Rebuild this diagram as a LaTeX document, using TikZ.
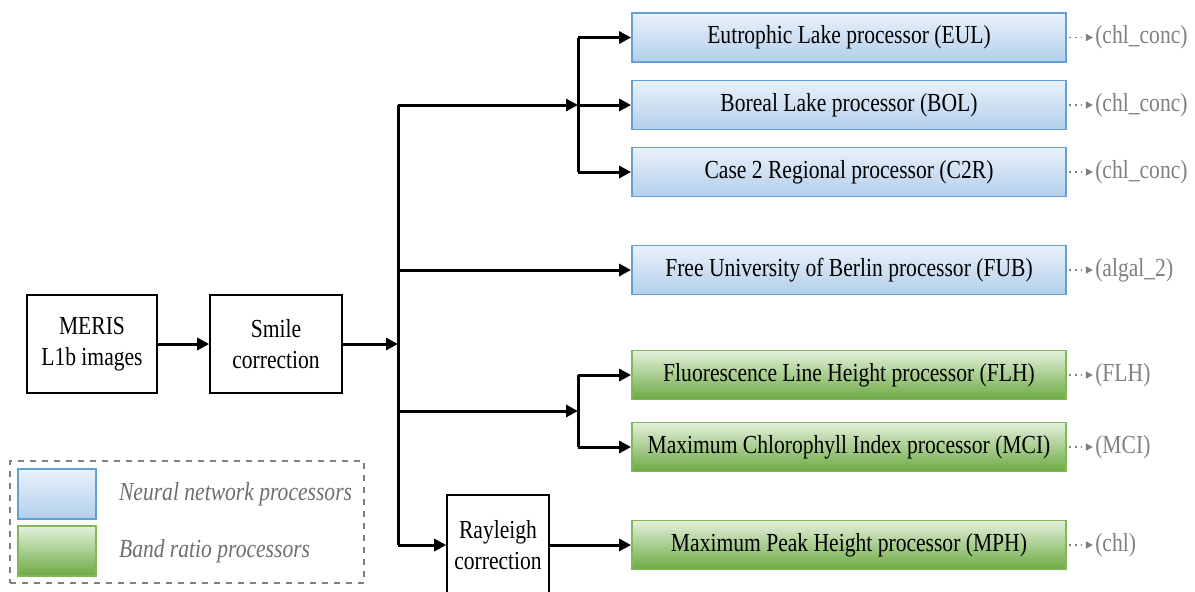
\documentclass[tikz,border=0pt]{standalone}
\usepackage{fontspec}
\setmainfont[FakeStretch=0.83]{Liberation Serif}
\usepackage{tikz}
\usetikzlibrary{arrows.meta,positioning}
\definecolor{nntop}{RGB}{234,241,250}
\definecolor{nnbot}{RGB}{178,207,235}
\definecolor{nnedge}{RGB}{98,160,216}
\definecolor{brtop}{RGB}{228,240,220}
\definecolor{brbot}{RGB}{108,170,66}
\definecolor{bredge}{RGB}{128,186,88}
\definecolor{outgrey}{RGB}{128,128,128}
\definecolor{leggrey}{RGB}{110,110,110}

\begin{document}
\begin{tikzpicture}[
    x=0.5pt, y=-0.5pt,
    plain/.style={rectangle, draw, line width=0.8pt, align=center,
                  font=\fontsize{13}{15.5}\selectfont},
    proc/.style={rectangle, draw, line width=0.9pt, minimum width=217pt,
                 minimum height=24.5pt, font=\fontsize{13}{15}\selectfont},
    nn/.style={proc, draw=nnedge, top color=nntop, bottom color=nnbot},
    br/.style={proc, draw=bredge, top color=brtop, bottom color=brbot},
    flow/.style={-{Triangle[length=6pt,width=6pt]}, line width=1.5pt},
    trunk/.style={line width=1.5pt},
    outarr/.style={-{Triangle[length=3.5pt,width=3.5pt]}, dotted,
                   line width=0.9pt, outgrey},
    outlbl/.style={font=\fontsize{13}{15}\selectfont, text=outgrey,
                   inner sep=1pt},
    legtxt/.style={font=\fontsize{13}{15}\selectfont\itshape, text=leggrey,
                   anchor=west},
  ]
  \useasboundingbox (0,0) rectangle (1195,591);

  % Input chain
  \node[plain, minimum width=65pt, minimum height=49pt] (meris) at (92,344)
    {MERIS\\L1b images};
  \node[plain, minimum width=66pt, minimum height=49pt] (smile) at (276,344)
    {Smile\\correction};
  \node[plain, minimum width=51pt, minimum height=50pt] (ray) at (498,545)
    {Rayleigh\\correction};

  % Neural network processors
  \node[nn] (eul) at (849,37.5) {Eutrophic Lake processor (EUL)};
  \node[nn] (bol) at (849,105) {Boreal Lake processor (BOL)};
  \node[nn] (c2r) at (849,172) {Case 2 Regional processor (C2R)};
  \node[nn] (fub) at (849,270) {Free University of Berlin processor (FUB)};

  % Band ratio processors
  \node[br] (flh) at (849,375) {Fluorescence Line Height processor (FLH)};
  \node[br] (mci) at (849,447) {Maximum Chlorophyll Index processor (MCI)};
  \node[br] (mph) at (849,545) {Maximum Peak Height processor (MPH)};

  % Outputs
  \foreach \p/\o in {eul/(chl\_conc), bol/(chl\_conc), c2r/(chl\_conc),
                     fub/(algal\_2), flh/(FLH), mci/(MCI), mph/(chl)} {
    \node[outlbl, right=13pt of \p] (\p out) {\o};
    \draw[outarr, shorten <=1pt] (\p) -- (\p out);
  }

  % Junctions
  \coordinate (tr) at (398,344);
  \coordinate (trtop) at (398,105);
  \coordinate (trbot) at (398,545);
  \coordinate (sub1) at (578,105);
  \coordinate (sub2) at (578,411);

  % Connectors
  \draw[flow] (meris) -- (smile);
  \draw[flow] (smile) -- (tr);
  \draw[trunk] (trtop) -- (trbot);
  \draw[flow] (trtop) -- (sub1);
  \draw[trunk] (sub1 |- eul.west) -- (sub1 |- c2r.west);
  \draw[flow] (sub1 |- eul.west) -- (eul);
  \draw[flow] (sub1) -- (bol);
  \draw[flow] (sub1 |- c2r.west) -- (c2r);
  \draw[flow] (tr |- fub.west) -- (fub);
  \draw[flow] (tr |- sub2) -- (sub2);
  \draw[trunk] (sub2 |- flh.west) -- (sub2 |- mci.west);
  \draw[flow] (sub2 |- flh.west) -- (flh);
  \draw[flow] (sub2 |- mci.west) -- (mci);
  \draw[flow] (trbot) -- (ray);
  \draw[flow] (ray) -- (mph);

  % Legend
  \node[rectangle, draw=outgrey, dashed, line width=0.8pt, minimum width=177pt,
        minimum height=61pt] (legend) at (187,522) {};
  \node[rectangle, draw=nnedge, line width=0.8pt, top color=nntop,
        bottom color=nnbot, minimum width=39pt, minimum height=25pt]
    (legnn) at (57,494) {};
  \node[rectangle, draw=bredge, line width=0.8pt, top color=brtop,
        bottom color=brbot, minimum width=39pt, minimum height=25pt]
    (legbr) at (57,551) {};
  \node[legtxt] (legnntxt) at (112,494) {Neural network processors};
  \node[legtxt] (legbrtxt) at (112,551) {Band ratio processors};
\end{tikzpicture}
\end{document}
